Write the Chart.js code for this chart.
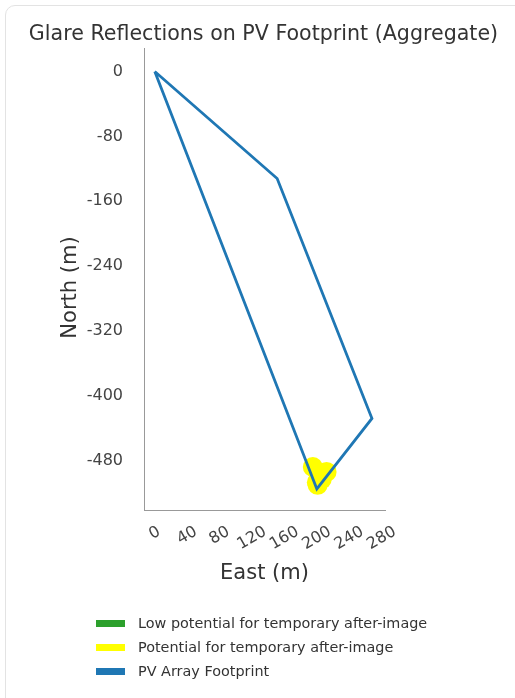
<!DOCTYPE html>
<html>
<head>
<meta charset="utf-8">
<script src="https://cdn.jsdelivr.net/npm/chart.js@4/dist/chart.umd.min.js"></script>
<style>
  html, body { margin: 0; padding: 0; background: #fff; }
  body { width: 515px; height: 698px; overflow: hidden; position: relative; font-family: 'DejaVu Sans', sans-serif; }
  #card { position: absolute; left: 5px; top: 5px; width: 640px; height: 780px; border: 1px solid #e3e3e3; border-radius: 10px; box-sizing: border-box; }
  #plot { position: absolute; left: 0; top: 0; }
  #legend { position: absolute; left: 96px; top: 611px; }
  .row { display: flex; align-items: center; height: 24px; font-size: 14.4px; color: #333; white-space: nowrap; }
  .swatch { width: 29px; height: 7px; margin-right: 13px; }
</style>
</head>
<body>
<div id="card"></div>
<canvas id="plot" width="515" height="698"></canvas>
<div id="legend"></div>
<script>
// Text
const chartTitle = 'Glare Reflections on PV Footprint (Aggregate)';
const xTitle = 'East (m)';
const yTitle = 'North (m)';
const seriesLabels = [
  'Low potential for temporary after-image',
  'Potential for temporary after-image',
  'PV Array Footprint'
];

// Tick values (metres)
const xTicks = [0, 40, 80, 120, 160, 200, 240, 280];
const yTicks = [-480, -400, -320, -240, -160, -80, 0];

// PV array outline, closed back to the first corner
const footprintEast  = [0, 151, 268, 200, 0];
const footprintNorth = [0, -132, -428, -515, 0];

// Glare reflection points
const lowGlareEast  = [];
const lowGlareNorth = [];
const glareEast  = [195, 212, 204, 206, 200, 201];
const glareNorth = [-488, -494, -499, -503, -507, -510];

const seriesColors = ['#2ca02c', '#ffff00', '#1f77b4'];

const toPoints = (xs, ys) => xs.map((x, i) => ({ x: x, y: ys[i] }));

const FONT = 'DejaVu Sans';

// Rotated, centred east tick labels and the north axis title
const axisText = {
  id: 'axisText',
  afterDraw(chart) {
    const { ctx } = chart;
    const xs = chart.scales.x;
    const ys = chart.scales.y;
    const ang = 30 * Math.PI / 180;
    ctx.save();
    ctx.fillStyle = '#444';
    ctx.font = '16px "' + FONT + '"';
    ctx.textAlign = 'center';
    ctx.textBaseline = 'middle';
    xs.ticks.forEach(t => {
      const label = String(t.label);
      const w = ctx.measureText(label).width;
      const px = xs.getPixelForValue(t.value);
      const cy = xs.top + 15.5 + (w * Math.sin(ang) + 11.7 * Math.cos(ang)) / 2;
      ctx.save();
      ctx.translate(px, cy);
      ctx.rotate(-ang);
      ctx.fillText(label, 0, 0);
      ctx.restore();
    });
    ctx.fillStyle = '#333';
    ctx.font = '21px "' + FONT + '"';
    ctx.translate(71, (ys.top + ys.bottom) / 2 + 8.5);
    ctx.rotate(-Math.PI / 2);
    ctx.fillText(yTitle, 0, 0);
    ctx.restore();
  }
};

const chart = new Chart(document.getElementById('plot'), {
  type: 'scatter',
  data: {
    datasets: [
      {
        label: seriesLabels[0],
        data: toPoints(lowGlareEast, lowGlareNorth),
        backgroundColor: seriesColors[0],
        borderColor: seriesColors[0],
        borderWidth: 0,
        pointRadius: 10,
        order: 2
      },
      {
        label: seriesLabels[1],
        data: toPoints(glareEast, glareNorth),
        backgroundColor: seriesColors[1],
        borderColor: seriesColors[1],
        borderWidth: 0,
        pointRadius: 10,
        pointHoverRadius: 10,
        order: 1
      },
      {
        label: seriesLabels[2],
        data: toPoints(footprintEast, footprintNorth),
        showLine: true,
        fill: false,
        borderColor: seriesColors[2],
        backgroundColor: seriesColors[2],
        borderWidth: 2.8,
        borderJoinStyle: 'miter',
        pointRadius: 0,
        pointHoverRadius: 0,
        tension: 0,
        order: 0
      }
    ]
  },
  options: {
    responsive: false,
    animation: false,
    events: [],
    layout: { padding: { left: 12, right: 0, top: 0, bottom: 0 } },
    plugins: {
      legend: { display: false },
      tooltip: { enabled: false },
      title: {
        display: true,
        text: chartTitle,
        color: '#333',
        font: { family: FONT, size: 20.6, weight: 'normal' },
        padding: { top: 22.2, bottom: 1.08 }
      }
    },
    scales: {
      x: {
        type: 'linear',
        min: -13.3,
        max: 284.1,
        afterBuildTicks: s => { s.ticks = xTicks.map(v => ({ value: v })); },
        ticks: { display: false },
        grid: { display: false },
        border: { display: true, color: '#999', width: 1 },
        title: {
          display: true,
          text: xTitle,
          color: '#333',
          font: { family: FONT, size: 21 },
          padding: { top: 0, bottom: 112 }
        },
        afterFit: s => { s.height = 188; }
      },
      y: {
        type: 'linear',
        min: -541,
        max: 29,
        afterBuildTicks: s => { s.ticks = yTicks.map(v => ({ value: v })); },
        ticks: { padding: 13, color: '#444', font: { family: FONT, size: 16 } },
        grid: { display: false },
        border: { display: true, color: '#999', width: 1 },
        afterFit: s => { s.width = 132; }
      },
      rightGutter: {
        type: 'linear',
        position: 'right',
        display: true,
        ticks: { display: false },
        grid: { display: false },
        border: { display: false },
        afterFit: s => { s.width = 130; }
      }
    }
  },
  plugins: [axisText]
});

// Vertical legend built from the datasets
const legendEl = document.getElementById('legend');
chart.data.datasets.forEach(ds => {
  const row = document.createElement('div');
  row.className = 'row';
  const sw = document.createElement('span');
  sw.className = 'swatch';
  sw.style.background = ds.borderColor;
  const txt = document.createElement('span');
  txt.textContent = ds.label;
  row.appendChild(sw);
  row.appendChild(txt);
  legendEl.appendChild(row);
});
</script>
</body>
</html>
